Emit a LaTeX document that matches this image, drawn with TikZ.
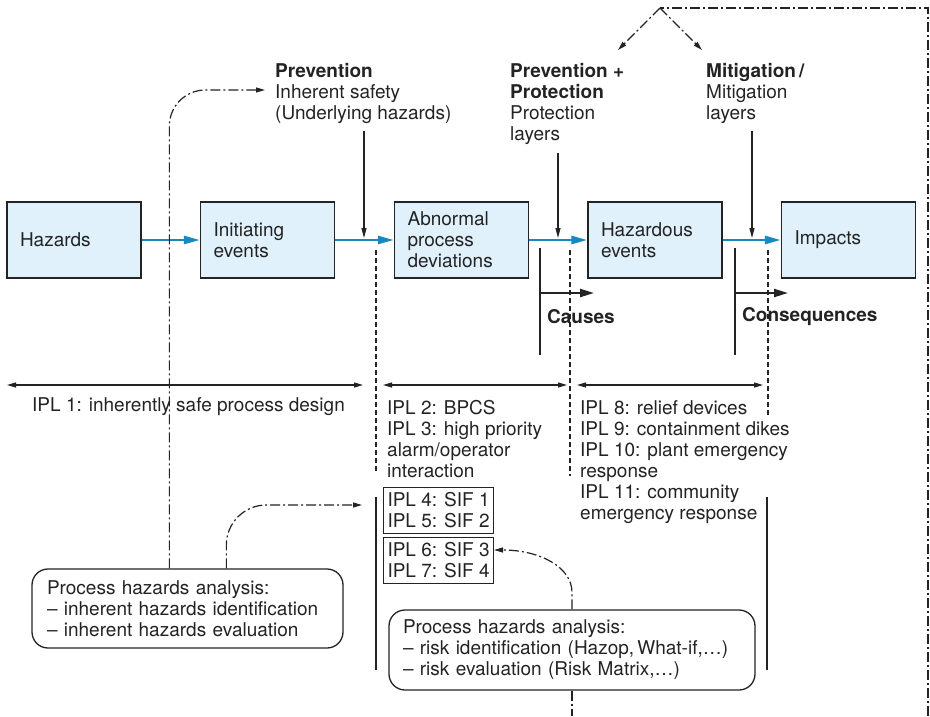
\documentclass[tikz,border=0pt]{standalone}
\usepackage{fontspec}
\setmainfont{TeX Gyre Heros}
\usetikzlibrary{arrows.meta}
\definecolor{boxfill}{RGB}{224,241,251}
\definecolor{flowblue}{RGB}{22,138,192}
\definecolor{ink}{RGB}{35,35,35}

\begin{document}
\begin{tikzpicture}[x=1pt,y=-1pt,
  every node/.style={font=\fontsize{19}{21}\selectfont, text=ink, inner sep=0pt},
  stage/.style={draw=ink, line width=1.3pt, fill=boxfill, minimum height=76pt,
                inner xsep=13pt, text width=108pt, align=left},
  flow/.style={flowblue, line width=2.6pt, -{Triangle[length=16pt,width=8pt]}},
  feed/.style={ink, line width=1.2pt, -{Triangle[length=10pt,width=5pt]}},
  span/.style={ink, line width=1.2pt,
               {Triangle[length=9pt,width=5pt]}-{Triangle[length=9pt,width=5pt]}},
  bound/.style={ink, line width=1.1pt, dash pattern=on 5pt off 3pt},
  rail/.style={ink, line width=1.2pt},
  link/.style={ink, line width=1.2pt, dash pattern=on 10pt off 3pt on 2pt off 3pt},
  linktip/.style={link, -{Triangle[length=9pt,width=5pt]}},
  bracket/.style={ink, line width=2.6pt},
  bracketarrow/.style={ink, line width=2.2pt, -{Triangle[length=14pt,width=8pt]}},
  label/.style={align=left, anchor=north west},
  iplbox/.style={draw=ink, line width=1pt, inner xsep=4pt, inner ysep=5pt,
                 align=left, anchor=north west},
  pha/.style={draw=ink, line width=1.3pt, rounded corners=16pt, align=left}
]
\useasboundingbox (0,0) rectangle (930,716);

% chain of stages
\node[stage] (haz) at (74,240)    {Hazards};
\node[stage] (ini) at (267.5,240) {Initiating\\events};
\node[stage] (abn) at (461.5,240) {Abnormal\\process\\deviations};
\node[stage] (hev) at (655,240)   {Hazardous\\events};
\node[stage] (imp) at (848.5,240) {Impacts};

\draw[flow] (haz) -- (ini);
\draw[flow] (ini) -- (abn);
\draw[flow] (abn) -- (hev);
\draw[flow] (hev) -- (imp);

% layer headings
\node[label] (prev) at (275,63) {\textbf{Prevention}\\Inherent safety\\(Underlying hazards)};
\node[label] (prot) at (510,63) {\textbf{Prevention +}\\\textbf{Protection}\\Protection\\layers};
\node[label] (miti) at (706,63) {\textbf{Mitigation\,/}\\Mitigation\\layers};

\coordinate (f1s) at (364,131); \coordinate (f1e) at (364,238);
\coordinate (f2s) at (558,153); \coordinate (f2e) at (558,238);
\coordinate (f3s) at (752,131); \coordinate (f3e) at (752,238);
\draw[feed] (f1s) -- (f1e);
\draw[feed] (f2s) -- (f2e);
\draw[feed] (f3s) -- (f3e);

% boundaries between the IPL groups
\draw[bound] (376,250) -- (376,473);
\draw[bound] (570,250) -- (570,476);
\draw[bound] (768,250) -- (768,416);
\draw[rail] (376,497) -- (376,670);
\draw[rail] (767,497) -- (767,670);

% spans of the IPL groups
\coordinate (s1a) at (7,385);   \coordinate (s1b) at (363,385);
\coordinate (s2a) at (383,385); \coordinate (s2b) at (567,385);
\coordinate (s3a) at (577,385); \coordinate (s3b) at (763,385);
\draw[span] (s1a) -- (s1b);
\draw[span] (s2a) -- (s2b);
\draw[span] (s3a) -- (s3b);

% causes and consequences
\coordinate (cb1) at (540,248); \coordinate (cb2) at (540,355);
\coordinate (ca1) at (540,293); \coordinate (ca2) at (594,293);
\draw[bracket] (cb1) -- (cb2);
\draw[bracketarrow] (ca1) -- (ca2);
\node[anchor=west] (causes) at (547,317) {\textbf{Causes}};

\coordinate (qb1) at (735,248); \coordinate (qb2) at (735,355);
\coordinate (qa1) at (735,293); \coordinate (qa2) at (788,293);
\draw[bracket] (qb1) -- (qb2);
\draw[bracketarrow] (qa1) -- (qa2);
\node[anchor=west] (cons) at (742,317) {\textbf{Consequences}};

% IPL lists
\node[anchor=west] (ipl1) at (32,407) {IPL 1: inherently safe process design};
\node[label] (ipl23) at (387,400) {IPL 2: BPCS\\IPL 3: high priority\\alarm/operator\\interaction};
\node[iplbox] (sif12) at (383,487) {IPL 4: SIF 1\\IPL 5: SIF 2};
\node[iplbox] (sif34) at (383,537) {IPL 6: SIF 3\\IPL 7: SIF 4};
\node[label] (ipl811) at (580,400) {IPL 8: relief devices\\IPL 9: containment dikes\\IPL 10: plant emergency\\response\\IPL 11: community\\emergency response};

% process hazards analyses
\node[pha, minimum height=79pt, inner xsep=15pt, text width=281pt] (pha1) at (187.5,608.5)
  {Process hazards analysis:\\– inherent hazards identification\\– inherent hazards evaluation};
\node[pha, minimum height=80pt, inner xsep=14pt, text width=338pt] (pha2) at (572,650)
  {Process hazards analysis:\\– risk identification (Hazop,\,What-if,…)\\– risk evaluation (Risk Matrix,…)};

% feedback links
\coordinate (l1e) at (265,90);
\draw[linktip, rounded corners=36pt] ([xshift=138pt]pha1.north west) |- (l1e);
\coordinate (l2e) at (362,505);
\draw[linktip, rounded corners=40pt] ([xshift=195pt]pha1.north west) |- (l2e);
\coordinate (l3e) at (494,550);
\draw[linktip] (pha2.north) -- ++(0,-17) .. controls ++(0,-25) and (540,550) .. (l3e);
\coordinate (l4e) at (572,716);
\draw[link] (pha2.south) -- (l4e);

\coordinate (apex) at (660,8);
\coordinate (rtop) at (928,8);
\coordinate (rbot) at (928,716);
\coordinate (apl) at (618,50);
\coordinate (apr) at (702,50);
\draw[link] (rbot) -- (rtop) -- (apex);
\draw[linktip] (apex) -- (apl);
\draw[linktip] (apex) -- (apr);
\end{tikzpicture}
\end{document}
